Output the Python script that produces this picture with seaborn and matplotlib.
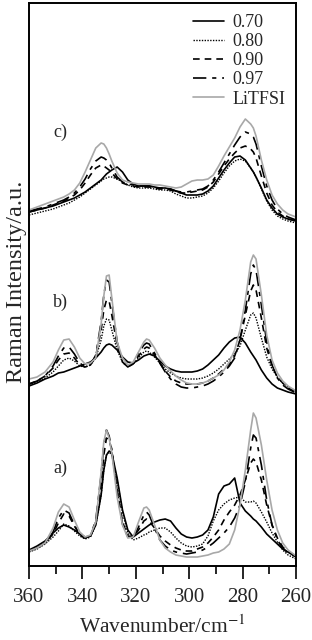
import numpy as np
import pandas as pd
import seaborn as sns
import matplotlib.pyplot as plt

# Raman shift grid (cm-1), shared by all spectra
wavenumber = [360, 357, 354, 351, 349, 347, 345, 343, 341, 339, 337, 335, 333, 332,
              331, 330, 329, 327, 325, 323, 321, 319, 317, 316, 315, 313, 311, 309,
              307, 305, 303, 301, 299, 297, 295, 293, 291, 289, 287, 285, 283, 281,
              279, 277, 276, 275, 273, 271, 269, 267, 265, 263, 260]

series_labels = ["0.70", "0.80", "0.90", "0.97", "LiTFSI"]
panel_labels = ["a)", "b)", "c)"]
panel_offsets = [0, 166, 336]

# panel a)
a_070 = [16, 20, 25, 33, 38, 41, 39, 36, 32, 29, 30, 41, 71, 96, 111, 115, 113, 88, 56, 36, 29, 33, 37, 39, 41,
         44, 46, 47, 45, 38, 32, 29, 28, 29, 31, 36, 49, 72, 80, 82, 88, 63, 55, 50, 47, 45, 39, 32, 27, 22, 17, 14, 10]
a_080 = [14, 17, 22, 29, 35, 42, 40, 35, 30, 27, 29, 41, 71, 96, 111, 114, 111, 86, 54, 33, 26, 28, 31, 32, 34,
         36, 38, 38, 34, 28, 23, 20, 19, 20, 22, 30, 45, 56, 62, 66, 68, 69, 64, 64, 65, 63, 54, 44, 33, 24, 16, 11, 7]
a_090 = [15, 18, 23, 32, 43, 52, 50, 40, 31, 28, 30, 44, 81, 111, 128, 126, 116, 76, 44, 30, 29, 36, 45, 47, 45,
         38, 30, 25, 21, 18, 16, 15, 15, 17, 19, 23, 29, 36, 46, 54, 61, 71, 86, 103, 107, 104, 86, 61, 41, 28, 19, 14, 9]
a_097 = [15, 18, 23, 34, 48, 56, 53, 41, 31, 28, 30, 46, 91, 121, 136, 130, 116, 74, 42, 29, 29, 39, 51, 54, 51,
         38, 26, 20, 16, 14, 13, 12, 13, 14, 16, 19, 23, 28, 33, 39, 48, 61, 84, 118, 131, 128, 101, 66, 41, 26, 18, 13, 9]
a_lit = [15, 18, 23, 38, 54, 62, 59, 46, 34, 29, 31, 44, 94, 124, 136, 128, 113, 69, 41, 28, 29, 44, 58, 59, 56,
         41, 26, 18, 14, 11, 10, 9, 9, 9, 10, 11, 13, 14, 17, 22, 36, 61, 96, 136, 153, 148, 121, 86, 56, 36, 23, 16, 10]

# panel b)
b_070 = [14, 17, 21, 24, 27, 28, 30, 32, 34, 36, 38, 42, 48, 52, 55, 56, 55, 50, 43, 38, 37, 40, 44, 45, 46,
         44, 39, 34, 31, 29, 28, 28, 28, 29, 31, 35, 40, 45, 52, 58, 62, 63, 57, 48, 44, 40, 30, 22, 16, 12, 10, 8, 6]
b_080 = [15, 18, 22, 28, 34, 40, 42, 39, 34, 33, 35, 42, 60, 74, 81, 80, 70, 50, 38, 34, 36, 42, 48, 49, 48,
         43, 37, 31, 27, 24, 22, 21, 21, 21, 22, 24, 27, 31, 36, 41, 46, 54, 70, 85, 87, 82, 62, 43, 31, 23, 17, 13, 9]
b_090 = [16, 19, 24, 32, 40, 46, 47, 42, 35, 33, 35, 44, 70, 90, 100, 99, 85, 55, 38, 33, 36, 44, 51, 53, 52,
         45, 37, 29, 23, 19, 17, 16, 16, 16, 17, 19, 22, 26, 31, 36, 44, 60, 85, 109, 115, 110, 82, 52, 34, 23, 17, 12, 8]
b_097 = [16, 19, 24, 34, 44, 52, 53, 46, 37, 33, 35, 45, 78, 105, 120, 118, 98, 58, 38, 33, 37, 47, 55, 57, 56,
         47, 37, 28, 21, 16, 13, 12, 12, 13, 14, 16, 19, 23, 28, 34, 42, 60, 90, 126, 135, 130, 95, 58, 35, 22, 15, 11, 7]
b_lit = [21, 23, 28, 38, 50, 60, 61, 53, 42, 36, 37, 42, 76, 104, 124, 125, 102, 58, 42, 35, 38, 48, 58, 61, 60,
         52, 42, 35, 29, 24, 20, 17, 16, 16, 17, 19, 22, 25, 30, 38, 50, 70, 100, 138, 145, 141, 105, 65, 40, 27, 19, 14, 9]

# panel c)
c_070 = [18, 20, 22, 24, 26, 28, 30, 32, 35, 38, 42, 46, 50, 53, 56, 58, 60, 63, 58, 50, 46, 44, 44, 44, 44,
         43, 42, 42, 41, 39, 37, 35, 35, 35, 36, 39, 44, 52, 60, 67, 73, 74, 70, 62, 58, 53, 42, 30, 22, 16, 13, 11, 9]
c_080 = [15, 17, 19, 21, 23, 25, 27, 30, 33, 37, 41, 45, 49, 51, 52, 53, 53, 51, 48, 45, 43, 42, 42, 42, 42,
         41, 40, 40, 39, 36, 34, 32, 32, 33, 34, 37, 42, 49, 57, 64, 69, 71, 69, 62, 58, 53, 41, 29, 20, 14, 11, 9, 7]
c_090 = [18, 20, 22, 25, 27, 29, 32, 35, 40, 47, 55, 62, 65, 64, 62, 60, 57, 51, 47, 45, 44, 43, 43, 43, 43,
         42, 41, 41, 40, 38, 37, 37, 38, 39, 40, 43, 48, 56, 64, 71, 77, 82, 84, 81, 78, 72, 54, 37, 25, 18, 14, 11, 9]
c_097 = [19, 21, 23, 26, 28, 30, 33, 37, 43, 51, 61, 69, 73, 72, 70, 67, 62, 53, 48, 46, 45, 44, 44, 44, 44,
         43, 42, 42, 41, 39, 38, 38, 39, 40, 41, 44, 50, 58, 67, 76, 85, 93, 98, 96, 93, 86, 64, 44, 30, 21, 16, 13, 10]
c_lit = [20, 23, 26, 29, 31, 33, 36, 40, 47, 58, 70, 82, 87, 86, 82, 76, 69, 57, 50, 48, 47, 46, 46, 46, 46,
         45, 45, 44, 43, 42, 43, 46, 49, 50, 50, 51, 55, 64, 74, 83, 92, 103, 111, 106, 102, 94, 70, 50, 35, 26, 20, 16, 13]

panels = [
    [a_070, a_080, a_090, a_097, a_lit],
    [b_070, b_080, b_090, b_097, b_lit],
    [c_070, c_080, c_090, c_097, c_lit],
]

styles = {
    "0.70": dict(color="black", linestyle="-", linewidth=1.2),
    "0.80": dict(color="black", linestyle=(0, (1, 1)), linewidth=1.0),
    "0.90": dict(color="black", linestyle=(0, (4, 3)), linewidth=1.2),
    "0.97": dict(color="black", linestyle=(0, (8, 3.5, 2.5, 3.5)), linewidth=1.2),
    "LiTFSI": dict(color="#a8a8a8", linestyle="-", linewidth=1.2),
}

sns.set_style("ticks")
plt.rcParams["font.family"] = ["Liberation Serif", "DejaVu Serif"]
plt.rcParams["mathtext.fontset"] = "stix"

fig = plt.figure(figsize=(3.12, 6.4), dpi=100)
ax = fig.add_axes([0.093, 0.1156, 0.856, 0.8797])

for p, (curves, offset) in enumerate(zip(panels, panel_offsets)):
    for label, values in zip(series_labels, curves):
        df = pd.DataFrame({"wn": wavenumber, "I": np.array(values) + offset})
        sns.lineplot(data=df, x="wn", y="I", ax=ax, sort=False,
                     label=label if p == 2 else None, **styles[label])
    ax.text(348.3, offset + 98, panel_labels[p], fontsize=13,
            ha="center", va="center")

ax.set_xlim(360, 260)
ax.set_ylim(0, 563)
ax.set_xticks([360, 340, 320, 300, 280, 260])
ax.set_xticks(np.arange(260, 361, 10), minor=True)
ax.tick_params(axis="x", which="major", direction="out", length=9, width=1.4,
               labelsize=15, pad=7)
ax.tick_params(axis="x", which="minor", direction="out", length=5.5, width=1.4)
ax.set_yticks([])
for s in ax.spines.values():
    s.set_linewidth(1.4)
    s.set_color("black")

ax.set_xlabel("Wavenumber/cm$^{-1}$", fontsize=15.5, labelpad=6)
ax.set_ylabel("Raman Intensity/a.u.", fontsize=17.5)
ax.yaxis.set_label_coords(-0.008, 0.505)

handles, labels = ax.get_legend_handles_labels()
ax.legend(handles, labels, loc="upper right", frameon=False, fontsize=13,
          handlelength=1.7, labelspacing=0.12, handletextpad=0.45,
          borderaxespad=0.2, borderpad=0.4)

fig.savefig("out.png", dpi=100)
